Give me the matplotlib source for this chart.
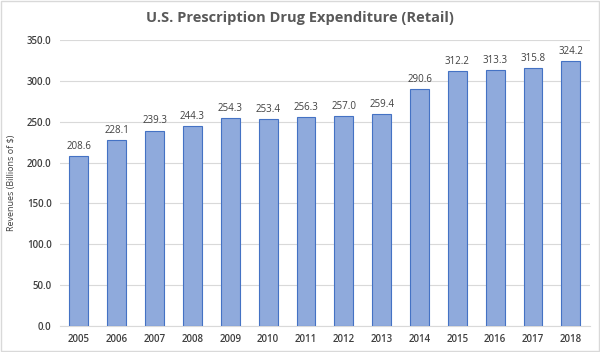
import matplotlib
matplotlib.use('Agg')
import matplotlib.pyplot as plt
import numpy as np

years = ['2005', '2006', '2007', '2008', '2009', '2010', '2011',
         '2012', '2013', '2014', '2015', '2016', '2017', '2018']
spend = [208.6, 228.1, 239.3, 244.3, 254.3, 253.4, 256.3,
         257.0, 259.4, 290.6, 312.2, 313.3, 315.8, 324.2]
yticks = [0, 50, 100, 150, 200, 250, 300, 350]

plt.rcParams['font.family'] = ['Open Sans', 'DejaVu Sans']

fig = plt.figure(figsize=(6, 3.52), dpi=100)
ax = fig.add_axes([0.1, 0.074, 0.883, 0.812])

xpos = np.arange(len(years))
bars = ax.bar(xpos, spend, width=0.5, color='#8faadc', edgecolor='#4472c4',
              linewidth=0.8, zorder=3)

for xx, val in zip(xpos, spend):
    ax.text(xx, val + 5, '%.1f' % val, ha='center', va='bottom',
            fontsize=7, color='#404040')

ax.set_xlim(-0.5, len(years) - 0.5)
ax.set_ylim(0, 350)
ax.set_yticks(yticks)
ax.set_yticklabels(['%.1f' % v for v in yticks], fontsize=7,
                   fontweight='semibold', color='#404040')
ax.set_xticks(xpos)
ax.set_xticklabels(years, fontsize=7, fontweight='semibold', color='#404040')
ax.tick_params(length=0, pad=6)
ax.grid(axis='y', color='#d9d9d9', linewidth=0.8, zorder=0)

for side in ['top', 'right', 'left']:
    ax.spines[side].set_visible(False)
ax.spines['bottom'].set_color('#d9d9d9')

ax.set_ylabel('Revenues (Billions of $)', fontsize=6.5, color='#404040', labelpad=8)

fig.text(0.4995, 0.949, 'U.S. Prescription Drug Expenditure (Retail)', ha='center',
         va='center', fontsize=10.5, fontweight='bold', color='#595959')

# thin frame round the whole chart
fig.patches.append(plt.Rectangle((0.002, 0.003), 0.996, 0.994, transform=fig.transFigure,
                                 fill=False, edgecolor='#d9d9d9', linewidth=1))

plt.savefig('out.png', dpi=100)
